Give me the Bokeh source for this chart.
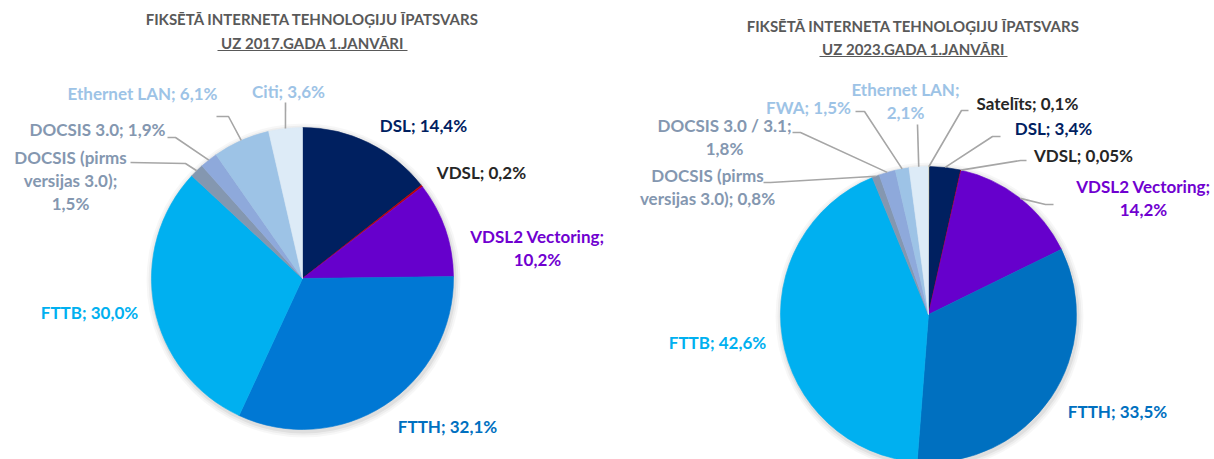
import math
from bokeh.plotting import figure
from bokeh.models import Range1d
from bokeh.core.properties import value
from bokeh.embed import file_html
from bokeh.resources import INLINE

# ---------------- data ----------------
title_line1 = "FIKSĒTĀ INTERNETA TEHNOLOĢIJU ĪPATSVARS"
title_2017 = "UZ 2017.GADA 1.JANVĀRI"
title_2023 = "UZ 2023.GADA 1.JANVĀRI"

cats_2017 = ["DSL", "VDSL", "VDSL2 Vectoring", "FTTH", "FTTB",
             "DOCSIS (pirms versijas 3.0)", "DOCSIS 3.0", "Ethernet LAN", "Citi"]
vals_2017 = [14.4, 0.2, 10.2, 32.1, 30.0, 1.5, 1.9, 6.1, 3.6]

cats_2023 = ["Satelīts", "DSL", "VDSL", "VDSL2 Vectoring", "FTTH", "FTTB",
             "DOCSIS (pirms versijas 3.0)", "DOCSIS 3.0 / 3.1", "FWA", "Ethernet LAN"]
vals_2023 = [0.1, 3.4, 0.05, 14.2, 33.5, 42.6, 0.8, 1.8, 1.5, 2.1]

# ---------------- styles ----------------
FONT = value("Lato")
fill_colors = {
    "Satelīts": "#BF9000", "DSL": "#002060", "VDSL": "#C00000",
    "VDSL2 Vectoring": "#6600CC", "FTTH": "#0078D4", "FTTB": "#00B0F0",
    "DOCSIS (pirms versijas 3.0)": "#8497B0", "DOCSIS 3.0": "#8EA9DB",
    "DOCSIS 3.0 / 3.1": "#8EA9DB", "FWA": "#9DC3E6", "Ethernet LAN": "#9DC3E6",
    "Citi": "#DDEBF7",
}
label_colors = {
    "Satelīts": "#262626", "DSL": "#002060", "VDSL": "#262626",
    "VDSL2 Vectoring": "#7000D0", "FTTH": "#0070C0", "FTTB": "#00B0F0",
    "DOCSIS (pirms versijas 3.0)": "#8497B0", "DOCSIS 3.0": "#8497B0",
    "DOCSIS 3.0 / 3.1": "#8497B0", "FWA": "#9DC3E6", "Ethernet LAN": "#9DC3E6",
    "Citi": "#9DC3E6",
}

W, H = 1214, 459
SH = 459  # layout coordinates: y measured from top of the picture

def Y(sy):
    return SH - sy

# layout (picture-pixel coordinates)
layout_2017 = dict(
    cx=302, cy=278, r=151, title_x=312, title_y=(18, 42), ul_half=95, ul_y=50,
    fill_override={},
    labels={
        "DSL": dict(pos=(423, 125)),
        "VDSL": dict(pos=(481, 172)),
        "VDSL2 Vectoring": dict(pos=(537, 236), br=["; "]),
        "FTTH": dict(pos=(447, 426)),
        "FTTB": dict(pos=(89, 312)),
        "DOCSIS (pirms versijas 3.0)": dict(pos=(70, 157), br=["(pirms ", "; "],
                                            leader=[(185, 163), (130, 162)]),
        "DOCSIS 3.0": dict(pos=(97, 129), leader=[(175, 137), (167, 137)]),
        "Ethernet LAN": dict(pos=(142, 93), leader=[(228, 116), (216, 116)]),
        "Citi": dict(pos=(288, 91), leader=[(285, 102)]),
    },
)
layout_2023 = dict(
    cx=928, cy=314, r=148, title_x=913, title_y=(25, 48), ul_half=94, ul_y=56,
    fill_override={"FTTH": "#0070C0", "Ethernet LAN": "#DDEBF7"},
    labels={
        "Satelīts": dict(pos=(1027, 103), leader=[(961, 110), (968, 110)]),
        "DSL": dict(pos=(1053, 128), leader=[(992, 136), (1000, 136)]),
        "VDSL": dict(pos=(1083, 155), leader=[(1020, 160), (1026, 160)]),
        "VDSL2 Vectoring": dict(pos=(1143, 186), br=["; "],
                                leader=[(1045, 204), (1053, 204)]),
        "FTTH": dict(pos=(1117, 411)),
        "FTTB": dict(pos=(717, 342)),
        "DOCSIS (pirms versijas 3.0)": dict(pos=(707, 175), br=["(pirms "],
                                            leader=[(770, 182), (763, 182)]),
        "DOCSIS 3.0 / 3.1": dict(pos=(724, 125), br=["; "],
                                 leader=[(800, 132), (792, 132)]),
        "FWA": dict(pos=(808, 107), leader=[(864, 111), (855, 111)]),
        "Ethernet LAN": dict(pos=(905, 89), br=["; "], leader=[(917, 124)]),
    },
)
LINE_H = 23
FONT_SIZE = "17px"
TITLE_SIZE = "15px"

p = figure(width=W, height=H, output_backend="svg", toolbar_location=None,
           x_range=Range1d(0, W), y_range=Range1d(SH - H, SH),
           x_axis_type=None, y_axis_type=None, min_border=0)
p.grid.visible = False
p.outline_line_color = None
p.background_fill_color = "white"
p.border_fill_color = "white"


def fmt(v):
    return repr(v).replace(".", ",") + "%"


def draw_pie(cats, vals, lay, title2):
    cx, cy, r = lay["cx"], Y(lay["cy"]), lay["r"]
    total = sum(vals)
    # soft shadow
    for k, a in [(6, 0.03), (4, 0.04), (2, 0.06)]:
        p.circle(x=[cx + 1], y=[cy - 2], radius=r + k, fill_color="#000000",
                 fill_alpha=a, line_color=None)
    cum = 0.0
    starts, ends, colors, mids = [], [], [], []
    for c, v in zip(cats, vals):
        f0 = cum / total
        cum += v
        f1 = cum / total
        starts.append(math.pi / 2 - 2 * math.pi * f1)
        ends.append(math.pi / 2 - 2 * math.pi * f0)
        mids.append(math.pi / 2 - 2 * math.pi * (f0 + f1) / 2)
        colors.append(lay["fill_override"].get(c, fill_colors[c]))
    p.wedge(x=[cx] * len(cats), y=[cy] * len(cats), radius=r,
            start_angle=starts, end_angle=ends, fill_color=colors,
            line_color=colors, line_width=0.6)
    # labels & leaders
    for c, v, m in zip(cats, vals, mids):
        spec = lay["labels"][c]
        text = f"{c}; {fmt(v)}"
        for b in spec.get("br", []):
            text = text.replace(b, b.rstrip() + "\n", 1)
        lines = text.split("\n")
        lx, ly = spec["pos"]
        p.text(x=[lx] * len(lines), y=[Y(ly + i * LINE_H) for i in range(len(lines))],
               text=lines, text_font=FONT, text_font_style="bold",
               text_font_size=FONT_SIZE, text_color=label_colors[c],
               text_align="center", text_baseline="middle")
        if "leader" in spec:
            xs = [cx + r * math.cos(m)] + [pt[0] for pt in spec["leader"]]
            ys = [cy + r * math.sin(m)] + [Y(pt[1]) for pt in spec["leader"]]
            p.line(x=xs, y=ys, line_color="#A6A6A6", line_width=1.6)
    # titles
    tx = lay["title_x"]
    t1, t2 = lay["title_y"]
    p.text(x=[tx, tx], y=[Y(t1), Y(t2)], text=[title_line1, title2],
           text_font=FONT, text_font_style="bold", text_font_size=TITLE_SIZE,
           text_color="#595959", text_align="center", text_baseline="middle")
    hw = lay["ul_half"]
    p.segment(x0=[tx - hw], y0=[Y(lay["ul_y"])], x1=[tx + hw], y1=[Y(lay["ul_y"])],
              line_color="#595959", line_width=1)


draw_pie(cats_2017, vals_2017, layout_2017, title_2017)
draw_pie(cats_2023, vals_2023, layout_2023, title_2023)

open("out.html", "w").write(file_html(p, INLINE))
